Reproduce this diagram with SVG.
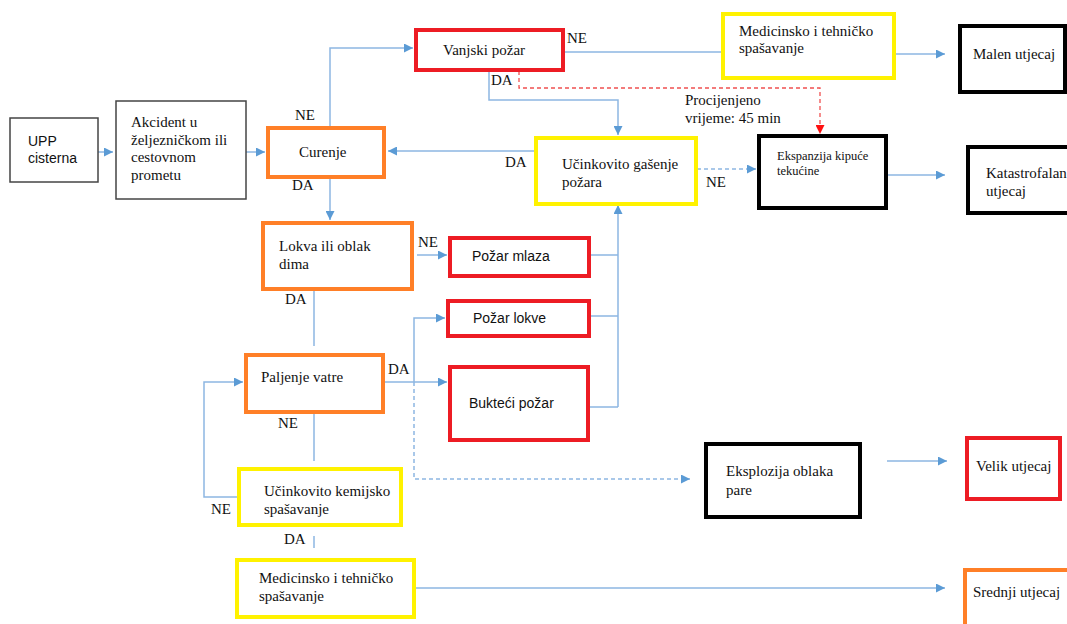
<svg xmlns="http://www.w3.org/2000/svg" width="1067" height="624" viewBox="0 0 1067 624">
<defs>
<style>
.t{font-family:"Liberation Serif","Times New Roman",serif;font-size:15px;fill:#111}
.s{font-family:"Liberation Sans",Arial,sans-serif;font-size:14px;fill:#111}
.sm{font-family:"Liberation Serif","Times New Roman",serif;font-size:12.5px;fill:#111}
.b{fill:#fff;stroke-width:4}
.or{stroke:#FF7F27}.rd{stroke:#ED1C24}.yl{stroke:#FFF200}.bk{stroke:#000}
.gr{fill:#fff;stroke:#444;stroke-width:1.5}
.c{fill:none;stroke:#8DB6E2;stroke-width:1.5}
.d{stroke-dasharray:4 3}
.rdash{fill:none;stroke:#F05050;stroke-width:1.3;stroke-dasharray:4 3}
</style>
<marker id="a" viewBox="0 0 10 10" refX="10" refY="5" markerWidth="11" markerHeight="9" markerUnits="userSpaceOnUse" orient="auto"><path d="M0,0L10,5L0,10z" fill="#5B9BD5"/></marker>
<marker id="ar" viewBox="0 0 10 10" refX="10" refY="5" markerWidth="11" markerHeight="9" markerUnits="userSpaceOnUse" orient="auto"><path d="M0,0L10,5L0,10z" fill="#FF1010"/></marker>
</defs>
<rect width="1067" height="624" fill="#fff"/>
<g id="connectors">
<path class="c" d="M98,152H113" marker-end="url(#a)"/>
<path class="c" d="M246,152H265" marker-end="url(#a)"/>
<path class="c" d="M330,127V48H413" marker-end="url(#a)"/>
<path class="c" d="M330,177V220" marker-end="url(#a)"/>
<path class="c" d="M563,52H721"/>
<path class="c" d="M894,54H945" marker-end="url(#a)"/>
<path class="c" d="M489,71V100H618V135" marker-end="url(#a)"/>
<path class="rdash" d="M519,71V88H820V134" marker-end="url(#ar)"/>
<path class="c" d="M536,151H388" marker-end="url(#a)"/>
<path class="c d" d="M697,169H756" marker-end="url(#a)"/>
<path class="c" d="M886,175H945" marker-end="url(#a)"/>
<path class="c" d="M417,255H447" marker-end="url(#a)"/>
<path class="c" d="M314,289V346"/>
<path class="c" d="M590,255H618M590,316H618M588,407H618"/>
<path class="c" d="M618,407V205" marker-end="url(#a)"/>
<path class="c" d="M384,382H447" marker-end="url(#a)"/>
<path class="c" d="M414,382V318H445" marker-end="url(#a)"/>
<path class="c d" d="M414,382V479H690" marker-end="url(#a)"/>
<path class="c" d="M314,412V461"/>
<path class="c" d="M237,497H204V382H243" marker-end="url(#a)"/>
<path class="c" d="M314,536V548"/>
<path class="c" d="M415,588H945" marker-end="url(#a)"/>
<path class="c" d="M887,461H947" marker-end="url(#a)"/>
</g>
<g id="labels">
<text class="t" x="295" y="120">NE</text>
<text class="t" x="292" y="190">DA</text>
<text class="t" x="567" y="43">NE</text>
<text class="t" x="491" y="85">DA</text>
<text class="t" x="685" y="105">Procijenjeno</text>
<text class="t" x="685" y="123">vrijeme: 45 min</text>
<text class="t" x="505" y="167">DA</text>
<text class="t" x="706" y="187">NE</text>
<text class="t" x="418" y="247">NE</text>
<text class="t" x="285" y="304">DA</text>
<text class="t" x="388" y="374">DA</text>
<text class="t" x="278" y="428">NE</text>
<text class="t" x="211" y="514">NE</text>
<text class="t" x="284" y="544">DA</text>
</g>
<g id="n-upp"><rect class="gr" x="10" y="118" width="88" height="64"/><text class="s" x="28" y="146">UPP</text><text class="s" x="28" y="163">cisterna</text></g>
<g id="n-akcident"><rect class="gr" x="116" y="101" width="130" height="98"/><text class="t" x="131" y="127">Akcident u</text><text class="t" x="131" y="144.5">željezničkom ili</text><text class="t" x="131" y="162">cestovnom</text><text class="t" x="131" y="179.5">prometu</text></g>
<g id="n-curenje"><rect class="b or" x="268" y="128" width="116" height="49"/><text class="t" x="299" y="157">Curenje</text></g>
<g id="n-vanjski"><rect class="b rd" x="416" y="30" width="147" height="40"/><text class="t" x="443" y="55">Vanjski požar</text></g>
<g id="n-med1"><rect class="b yl" x="723" y="14" width="171" height="64"/><text class="t" x="739" y="36">Medicinsko i tehničko</text><text class="t" x="739" y="53">spašavanje</text></g>
<g id="n-malen"><rect class="b bk" x="960" y="26" width="105" height="66"/><text class="t" x="973" y="59">Malen utjecaj</text></g>
<g id="n-gasenje"><rect class="b yl" x="536" y="138" width="160" height="66"/><text class="t" x="562" y="169">Učinkovito gašenje</text><text class="t" x="562" y="187">požara</text></g>
<g id="n-ekspanzija"><rect class="b bk" x="759" y="136" width="127" height="72"/><text class="sm" x="777" y="160">Ekspanzija kipuće</text><text class="sm" x="777" y="175">tekućine</text></g>
<g id="n-katastrofalan"><rect class="b bk" x="968" y="147" width="110" height="66"/><text class="t" x="986" y="178">Katastrofalan</text><text class="t" x="986" y="196">utjecaj</text></g>
<g id="n-lokva"><rect class="b or" x="263" y="223" width="149" height="66"/><text class="t" x="279" y="251">Lokva ili oblak</text><text class="t" x="279" y="269">dima</text></g>
<g id="n-mlaza"><rect class="b rd" x="450" y="238" width="139" height="38"/><text class="s" x="472" y="261">Požar mlaza</text></g>
<g id="n-lokve"><rect class="b rd" x="448" y="301" width="141" height="35"/><text class="s" x="473" y="323">Požar lokve</text></g>
<g id="n-paljenje"><rect class="b or" x="246" y="355" width="137" height="57"/><text class="t" x="261" y="382">Paljenje vatre</text></g>
<g id="n-bukteci"><rect class="b rd" x="450" y="367" width="138" height="73"/><text class="s" x="469" y="408">Bukteći požar</text></g>
<g id="n-kemijsko"><rect class="b yl" x="239" y="469" width="162" height="56"/><text class="t" x="264" y="496">Učinkovito kemijsko</text><text class="t" x="264" y="514">spašavanje</text></g>
<g id="n-med2"><rect class="b yl" x="237" y="560" width="177" height="57"/><text class="t" x="259" y="583">Medicinsko i tehničko</text><text class="t" x="259" y="601">spašavanje</text></g>
<g id="n-eksplozija"><rect class="b bk" x="706" y="444" width="154" height="73"/><text class="t" x="726" y="476">Eksplozija oblaka</text><text class="t" x="726" y="495">pare</text></g>
<g id="n-velik"><rect class="b rd" x="967" y="438" width="93" height="61"/><text class="t" x="976" y="471">Velik utjecaj</text></g>
<g id="n-srednji"><rect class="b or" x="965" y="570" width="110" height="66"/><text class="t" x="973" y="597">Srednji utjecaj</text></g>
</svg>
